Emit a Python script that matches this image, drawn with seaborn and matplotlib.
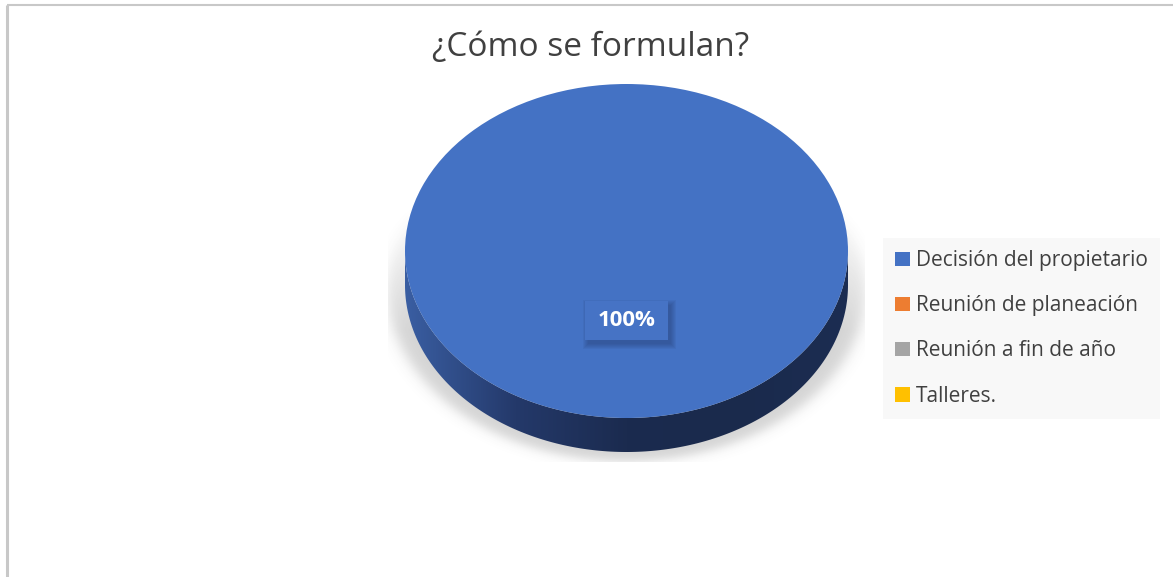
import numpy as np
import matplotlib
matplotlib.use("Agg")
import matplotlib.pyplot as plt
import seaborn as sns
from matplotlib.patches import Polygon, Rectangle
from matplotlib.colors import LinearSegmentedColormap

categories = ["Decisión del propietario", "Reunión de planeación", "Reunión a fin de año", "Talleres."]
values = [100, 0, 0, 0]
colors = ["#4472C4", "#ED7D31", "#A5A5A5", "#FFC000"]
title = "¿Cómo se formulan?"

sns.set_theme(style="white")
plt.rcParams["font.family"] = ["Open Sans", "DejaVu Sans"]

W, H = 1173, 577
fig = plt.figure(figsize=(W / 100, H / 100), dpi=100)
fig.patch.set_facecolor("white")

# background axes in pixel coordinates
bg = fig.add_axes([0, 0, 1, 1])
bg.set_xlim(0, W)
bg.set_ylim(H, 0)
bg.axis("off")

# frame lines
bg.plot([7, 7], [5, H], color="#c8c8c8", lw=2.2, solid_capstyle="butt")
bg.plot([7, W], [5, 5], color="#c8c8c8", lw=1.5, solid_capstyle="butt")

cx, cy, rx, ry, depth = 626.5, 251, 221.5, 167, 34

# soft shadow
xs = np.arange(380, 875)
ys = np.arange(100, 470)
X, Y = np.meshgrid(xs, ys)
scx, scy, srx, sry = cx, 290, 245, 176
rho = np.sqrt(((X - scx) / srx) ** 2 + ((Y - scy) / sry) ** 2)
inten = 0.5 * (1 - np.tanh((rho - 0.975) / 0.035))
ramp = np.clip((Y - 200) / 130.0, 0, 1)
inten = inten * 0.24 * ramp
rgba = np.zeros(X.shape + (4,))
rgba[..., :3] = 0.3
rgba[..., 3] = inten
clipr = Rectangle((388, 100), 865 - 388, 462 - 100, transform=bg.transData, visible=False)
bg.add_patch(clipr)
im = bg.imshow(rgba, extent=(xs[0], xs[-1], ys[-1], ys[0]), aspect="auto", zorder=1)
im.set_clip_path(clipr)

# side of the 3D pie
t = np.linspace(0, np.pi, 200)
top_x = cx + rx * np.cos(t)
top_y = cy + ry * np.sin(t)
side_pts = np.concatenate([
    np.column_stack([top_x, top_y + depth]),
    np.column_stack([top_x[::-1], top_y[::-1]]),
])
side = Polygon(side_pts, closed=True, facecolor="none", edgecolor="none", zorder=2)
bg.add_patch(side)
cmap = LinearSegmentedColormap.from_list("side", ["#3a5ea2", "#24396a", "#1b2b4f", "#1a2a4c", "#1c2d52"])
grad = np.linspace(0, 1, 256).reshape(1, -1)
gim = bg.imshow(grad, cmap=cmap, extent=(cx - rx, cx + rx, cy + ry + depth, cy), aspect="auto", zorder=2)
gim.set_clip_path(side)
bg.set_xlim(0, W)
bg.set_ylim(H, 0)

# top of pie
pax = fig.add_axes([(cx - rx) / W, 1 - (cy + ry) / H, 2 * rx / W, 2 * ry / H])
pax.set_facecolor("none")
wedges, _ = pax.pie(values, colors=colors, startangle=90, counterclock=False, radius=1,
                    wedgeprops=dict(linewidth=0))
pax.set_aspect("auto")
pax.set_xlim(-1, 1)
pax.set_ylim(-1, 1)
pax.axis("off")

# overlay axes for data label
ov = fig.add_axes([0, 0, 1, 1])
ov.set_facecolor("none")
ov.set_xlim(0, W)
ov.set_ylim(H, 0)
ov.axis("off")
lx, ly = 627, 321
bx, by, bw, bh = 585, 301, 83, 39
for k in range(6):
    grow = 5 - k
    ov.add_patch(Rectangle((bx + 3 - grow, by + 4 - grow), bw + 2 * grow, bh + 2 * grow,
                           facecolor="#1f3260", alpha=0.07, edgecolor="none", zorder=5))
ov.add_patch(Rectangle((bx, by), bw, bh, facecolor="#4673c5", edgecolor="none", zorder=6))
pct = f"{values[0] / sum(values) * 100:.0f}%"
ov.text(lx, ly, pct, ha="center", va="center", color="white", fontsize=16,
        fontweight="bold", zorder=7)

# title
fig.text(591 / W, 1 - 47 / H, title, ha="center", va="center", fontsize=24, color="#404040")

# legend
leg = fig.legend(wedges, categories, loc="upper left",
                 bbox_to_anchor=(883 / W, 1 - 238 / H), frameon=True, fancybox=False,
                 fontsize=15, labelcolor="#404040", handlelength=0.7, handleheight=0.7,
                 handletextpad=0.3, labelspacing=1.16, borderpad=0.58, borderaxespad=0)
leg.get_frame().set_facecolor("#f7f7f7")
leg.get_frame().set_edgecolor("none")

fig.savefig("out.png", dpi=100, facecolor="white")
